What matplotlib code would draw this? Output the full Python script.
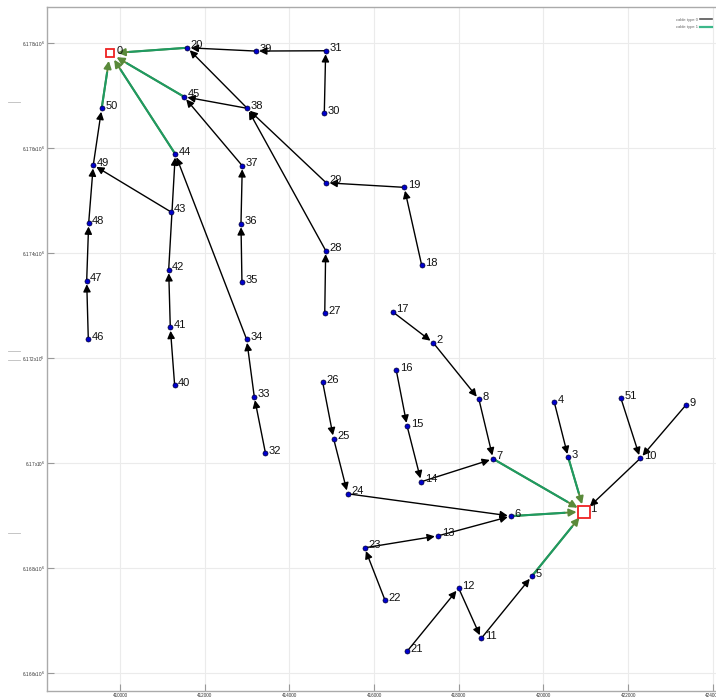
import numpy as np
import matplotlib.pyplot as plt
from matplotlib.lines import Line2D

plt.rcParams['font.family'] = ['Liberation Sans', 'DejaVu Sans']

# node coordinates (easting / northing)
node_x = [409764, 420962, 417397, 420584, 420254, 419727, 419236, 418811, 418476, 423356,
          422284, 418530, 417997, 417515, 417114, 416781, 416523, 416438, 417123, 416712,
          411589, 416783, 416257, 415777, 415376, 415045, 414786, 414835, 414857, 414868,
          414824, 414857, 413435, 413171, 412991, 412880, 412857, 412888, 413006, 413204,
          411291, 411188, 411150, 411197, 411306, 411511, 409252, 409214, 409261, 409370,
          409568, 421829]
node_y = [6177810, 6169081, 6172296, 6170113, 6171167, 6167852, 6168995, 6170085, 6171218, 6171104,
          6170094, 6166665, 6167623, 6168620, 6169649, 6170706, 6171776, 6172887, 6173777, 6175257,
          6177916, 6166423, 6167395, 6168391, 6169420, 6170468, 6171548, 6172857, 6174053, 6175344,
          6176667, 6177859, 6170195, 6171268, 6172361, 6173453, 6174563, 6175668, 6176762, 6177853,
          6171485, 6172590, 6173687, 6174792, 6175891, 6176983, 6172367, 6173478, 6174577, 6175682,
          6176762, 6171237]
sinks = [0, 1]

# cables (from, to)
cable0 = [(30, 31), (31, 39), (39, 20), (38, 20), (38, 45), (37, 45), (28, 38), (29, 38),
          (19, 29), (18, 19), (27, 28), (36, 37), (35, 36), (32, 33), (33, 34), (34, 44),
          (43, 49), (41, 42), (42, 44), (40, 41), (46, 47), (47, 48), (48, 49), (49, 50),
          (17, 2), (2, 8), (8, 7), (16, 15), (15, 14), (14, 7), (4, 3), (51, 10), (9, 10),
          (10, 1), (26, 25), (25, 24), (24, 6), (22, 23), (23, 13), (13, 6), (21, 12),
          (12, 11), (11, 5)]
cable1 = [(50, 0), (44, 0), (45, 0), (20, 0), (7, 1), (3, 1), (6, 1), (5, 1)]

xticks = [410000, 412000, 414000, 416000, 418000, 420000, 422000, 424000]
yticks = [6166000, 6168000, 6170000, 6172000, 6174000, 6176000, 6178000]

fig = plt.figure(figsize=(7.16, 6.98), dpi=100)
ax = fig.add_axes([0.066, 0.01, 0.934, 0.9795])
ax.set_xlim(408283, 424073)
ax.set_ylim(6165663, 6178686)

ax.set_xticks(xticks)
ax.set_xticklabels([str(v) for v in xticks])
ax.set_yticks(yticks)
ax.set_yticklabels([('%g' % (v / 1e6)) + 'x10$^6$' for v in yticks])
ax.tick_params(direction='in', length=5, width=0.8, color='#999999',
               labelsize=3.3, labelcolor='#333333', pad=1.5)
ax.grid(True, color='#ebebeb', lw=0.8)
ax.set_axisbelow(True)
for s in ['left', 'bottom', 'top']:
    ax.spines[s].set_color('#aaaaaa')
    ax.spines[s].set_linewidth(1.0)
ax.spines['right'].set_visible(False)


def shrink(a, b):
    return 5.5 if b in sinks else 2.5


for a, b in cable0:
    ax.annotate('', xy=(node_x[b], node_y[b]), xytext=(node_x[a], node_y[a]),
                arrowprops=dict(arrowstyle='-|>', color='black', lw=1.0,
                                mutation_scale=11, shrinkA=0, shrinkB=shrink(a, b)))

for a, b in cable1:
    ax.annotate('', xy=(node_x[b], node_y[b]), xytext=(node_x[a], node_y[a]),
                arrowprops=dict(arrowstyle='-|>', color='#5a8a3a', lw=1.4,
                                mutation_scale=11, shrinkA=0, shrinkB=shrink(a, b)))
    # green cable drawn on top, stopping at the arrow head
    p0 = ax.transData.transform((node_x[a], node_y[a]))
    p1 = ax.transData.transform((node_x[b], node_y[b]))
    d = p1 - p0
    L = np.hypot(*d)
    p1s = p0 + d * (L - 19) / L
    q = ax.transData.inverted().transform([p0, p1s])
    ax.plot(q[:, 0], q[:, 1], color='#1f9a62', lw=1.5, solid_capstyle='butt', zorder=4)

others = [i for i in range(len(node_x)) if i not in sinks]
ax.plot([node_x[i] for i in others], [node_y[i] for i in others], 'o', ms=3.6,
        mfc='#0000cc', mec='#000033', mew=0.5, zorder=5)
ax.plot(node_x[0], node_y[0], 's', ms=6.3, mfc='white', mec='#ee2222', mew=1.3, zorder=6)
ax.plot(node_x[1], node_y[1], 's', ms=8.0, mfc='white', mec='#ee2222', mew=1.3, zorder=6)

for i in range(len(node_x)):
    dx = 4.5 if i in sinks else 2.5
    ax.annotate(str(i), (node_x[i], node_y[i]), xytext=(dx, 1.8), textcoords='offset points',
                fontsize=8, ha='left', va='center', color='#111111', zorder=7)

handles = [Line2D([], [], color='#555555', lw=1.2), Line2D([], [], color='#3cb88a', lw=1.6)]
fig.legend(handles, ['cable type 0', 'cable type 1'], loc='upper right',
           bbox_to_anchor=(1.0, 0.98), fontsize=3, frameon=False, markerfirst=False,
           handlelength=3.0, handletextpad=0.4, labelspacing=0.9, labelcolor='#666666')

# stray marks in the left margin
for yy in [102, 351, 360, 533]:
    fig.add_artist(Line2D([8 / 716, 20 / 716], [1 - yy / 698, 1 - yy / 698],
                          color='#bbbbbb', lw=0.6))

fig.savefig('out.png', dpi=100)
